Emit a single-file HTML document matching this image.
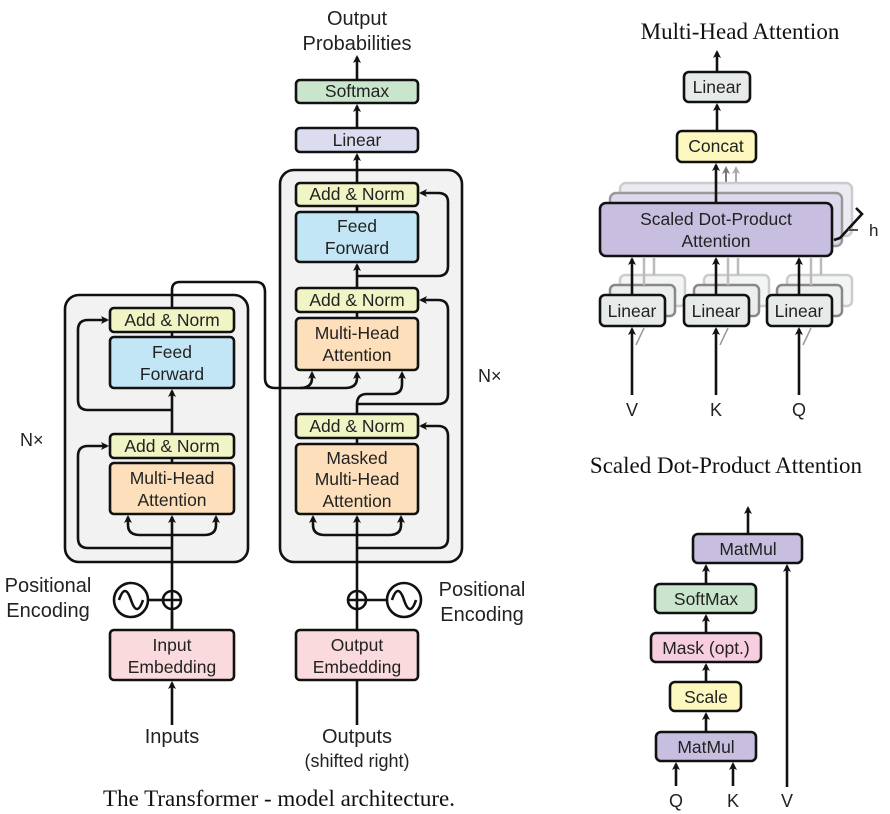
<!DOCTYPE html>
<html><head><meta charset="utf-8"><style>
html,body{margin:0;padding:0;background:#fff;}
svg{display:block;}
text{font-family:"Liberation Sans",sans-serif;fill:#222;}
.s{font-family:"Liberation Serif",serif;fill:#111;}
.b{stroke:#111;stroke-width:2.6;}
.l{stroke:#111;stroke-width:2.6;fill:none;}
</style></head><body>
<svg width="890" height="814" viewBox="0 0 890 814" xmlns="http://www.w3.org/2000/svg">
<defs>
<marker id="a" markerWidth="8" markerHeight="8" refX="6" refY="4" orient="auto" markerUnits="userSpaceOnUse"><path d="M0,0 L8,4 L0,8 L2,4 z" fill="#111"/></marker>
<marker id="g" markerWidth="8" markerHeight="8" refX="6" refY="4" orient="auto" markerUnits="userSpaceOnUse"><path d="M0,0 L8,4 L0,8 L2,4 z" fill="#777"/></marker>
<marker id="g2" markerWidth="8" markerHeight="8" refX="6" refY="4" orient="auto" markerUnits="userSpaceOnUse"><path d="M0,0 L8,4 L0,8 L2,4 z" fill="#aaa"/></marker>
</defs>

<rect x="65" y="295" width="183" height="267" rx="14" fill="#f2f2f2" class="b"/>
<rect x="280" y="170" width="182" height="392" rx="14" fill="#f2f2f2" class="b"/>

<path class="l" d="M172,680 V609 M172,591 V517" marker-end="url(#a)"/>
<path class="l" d="M172,535 H140 Q128,535 128,525 V517" marker-end="url(#a)"/>
<path class="l" d="M172,535 H204 Q216,535 216,525 V517" marker-end="url(#a)"/>
<path class="l" d="M172,548 H88 Q78,548 78,538 V456 Q78,446 88,446 H107" marker-end="url(#a)"/>
<path class="l" d="M172,463 V458"/>
<path class="l" d="M172,434 V391" marker-end="url(#a)"/>
<path class="l" d="M172,410 H88 Q78,410 78,400 V330 Q78,320 88,320 H107" marker-end="url(#a)"/>
<path class="l" d="M172,337 V332"/>
<path class="l" d="M172,308 V290 Q172,282 180,282 H256 Q265,282 265,292 V378 Q265,388 275,388 H300 Q312,388 312,378 V373" marker-end="url(#a)"/>
<path class="l" d="M300,388 H345 Q357,388 357,378 V373" marker-end="url(#a)"/>

<path class="l" d="M357,725 V660" marker-end="url(#a)"/>
<path class="l" d="M357,630 V609 M357,591 V517" marker-end="url(#a)"/>
<path class="l" d="M357,535 H325 Q313,535 313,525 V517" marker-end="url(#a)"/>
<path class="l" d="M357,535 H389 Q401,535 401,525 V517" marker-end="url(#a)"/>
<path class="l" d="M357,548 H438 Q448,548 448,538 V436 Q448,426 438,426 H421" marker-end="url(#a)"/>
<path class="l" d="M357,444 V438"/>
<path class="l" d="M357,414 V404 Q357,394 367,394 H392 Q402,394 402,384 V373" marker-end="url(#a)"/>
<path class="l" d="M357,404 Q357,404 367,404 H438 Q448,404 448,394 V310 Q448,300 438,300 H421" marker-end="url(#a)"/>
<path class="l" d="M357,318 V312"/>
<path class="l" d="M357,288 V265" marker-end="url(#a)"/>
<path class="l" d="M357,276 H438 Q448,276 448,266 V202 Q448,193 438,193 H421" marker-end="url(#a)"/>
<path class="l" d="M357,212 V206"/>
<path class="l" d="M357,183 V155" marker-end="url(#a)"/>
<path class="l" d="M357,128 V106" marker-end="url(#a)"/>
<path class="l" d="M357,80 V57" marker-end="url(#a)"/>

<g font-size="17.5" text-anchor="middle">
<rect x="110" y="308" width="124" height="24" rx="4" fill="#f1f4c4" class="b"/>
<text x="172" y="326">Add &amp; Norm</text>
<rect x="110" y="337" width="124" height="51" rx="4" fill="#c2e6f5" class="b"/>
<text x="172" y="358">Feed</text>
<text x="172" y="380">Forward</text>
<rect x="110" y="434" width="124" height="24" rx="4" fill="#f1f4c4" class="b"/>
<text x="172" y="452">Add &amp; Norm</text>
<rect x="110" y="463" width="124" height="51" rx="4" fill="#fde0bb" class="b"/>
<text x="172" y="484">Multi-Head</text>
<text x="172" y="506">Attention</text>

<rect x="296" y="183" width="122" height="23" rx="4" fill="#f1f4c4" class="b"/>
<text x="357" y="200">Add &amp; Norm</text>
<rect x="296" y="212" width="122" height="50" rx="4" fill="#c2e6f5" class="b"/>
<text x="357" y="232">Feed</text>
<text x="357" y="254">Forward</text>
<rect x="296" y="288" width="122" height="24" rx="4" fill="#f1f4c4" class="b"/>
<text x="357" y="306">Add &amp; Norm</text>
<rect x="296" y="318" width="122" height="52" rx="4" fill="#fde0bb" class="b"/>
<text x="357" y="339">Multi-Head</text>
<text x="357" y="361">Attention</text>
<rect x="296" y="414" width="122" height="24" rx="4" fill="#f1f4c4" class="b"/>
<text x="357" y="432">Add &amp; Norm</text>
<rect x="296" y="444" width="122" height="70" rx="4" fill="#fde0bb" class="b"/>
<text x="357" y="464">Masked</text>
<text x="357" y="485">Multi-Head</text>
<text x="357" y="507">Attention</text>

<rect x="296" y="128" width="122" height="24" rx="4" fill="#dcdcf0" class="b"/>
<text x="357" y="146">Linear</text>
<rect x="296" y="80" width="122" height="23" rx="4" fill="#c9e6cd" class="b"/>
<text x="357" y="97">Softmax</text>
</g>
<text x="20" y="446" font-size="18">N×</text>
<text x="478" y="382" font-size="18">N×</text>
<text x="357" y="25" text-anchor="middle" font-size="20">Output</text>
<text x="357" y="50" text-anchor="middle" font-size="20">Probabilities</text>

<path class="l" d="M172,725 V683" marker-end="url(#a)"/>
<g font-size="17.5" text-anchor="middle">
<rect x="110" y="630" width="124" height="50" rx="4" fill="#fadadd" class="b"/>
<text x="172" y="651">Input</text>
<text x="172" y="673">Embedding</text>
<rect x="296" y="630" width="122" height="50" rx="4" fill="#fadadd" class="b"/>
<text x="357" y="651">Output</text>
<text x="357" y="673">Embedding</text>
</g>
<path class="l" d="M172,630 V612"/>

<circle cx="172" cy="600" r="9" fill="#fff" class="b"/>
<path class="l" d="M163,600 H181 M172,591 V609" stroke-width="2"/>
<circle cx="357" cy="600" r="9" fill="#fff" class="b"/>
<path class="l" d="M348,600 H366 M357,591 V609" stroke-width="2"/>
<path class="l" d="M148,600 H163"/>
<path class="l" d="M366,600 H387"/>
<circle cx="131" cy="600" r="17" fill="#fff" class="b"/>
<path class="l" stroke-width="2" d="M119,600 C123,588 127,588 131,600 C135,612 139,612 143,600"/>
<circle cx="404" cy="600" r="17" fill="#fff" class="b"/>
<path class="l" stroke-width="2" d="M392,600 C396,588 400,588 404,600 C408,612 412,612 416,600"/>
<text x="48" y="592" text-anchor="middle" font-size="20">Positional</text>
<text x="48" y="617" text-anchor="middle" font-size="20">Encoding</text>
<text x="482" y="596" text-anchor="middle" font-size="20">Positional</text>
<text x="482" y="621" text-anchor="middle" font-size="20">Encoding</text>
<text x="172" y="743" text-anchor="middle" font-size="20">Inputs</text>
<text x="357" y="743" text-anchor="middle" font-size="20">Outputs</text>
<text x="357" y="767" text-anchor="middle" font-size="18">(shifted right)</text>
<text class="s" x="279" y="806" text-anchor="middle" font-size="23">The Transformer - model architecture.</text>

<text class="s" x="740" y="39" text-anchor="middle" font-size="23">Multi-Head Attention</text>
<path class="l" d="M717,131 V105" marker-end="url(#a)"/>
<path class="l" d="M717,72 V52" marker-end="url(#a)"/>
<g font-size="17.5" text-anchor="middle">
<rect x="684" y="72" width="66" height="30" rx="5" fill="#e6ebe9" class="b"/>
<text x="717" y="93">Linear</text>
<rect x="677" y="131" width="79" height="31" rx="5" fill="#fdf7c0" class="b"/>
<text x="716" y="152">Concat</text>
</g>
<path d="M726,190 V168" stroke="#777" stroke-width="2" fill="none" marker-end="url(#g)"/>
<path d="M736,185 V168" stroke="#aaa" stroke-width="2" fill="none" marker-end="url(#g2)"/>
<rect x="620" y="183" width="232" height="53" rx="6" fill="#eceaf3" stroke="#ccc" stroke-width="2.5"/>
<rect x="610" y="193" width="232" height="53" rx="6" fill="#ddd8ec" stroke="#999" stroke-width="2.5"/>
<path class="l" d="M716,203 V165" marker-end="url(#a)"/>
<g stroke="#ccc" stroke-width="2.5" fill="#f3f5f4">
<rect x="620" y="275" width="65" height="31" rx="5"/><rect x="704" y="275" width="65" height="31" rx="5"/><rect x="787" y="275" width="65" height="31" rx="5"/></g>
<g stroke="#888" stroke-width="2.5" fill="#eceeed">
<rect x="610" y="285" width="65" height="31" rx="5"/><rect x="694" y="285" width="65" height="31" rx="5"/><rect x="777" y="285" width="65" height="31" rx="5"/></g>
<g stroke="#bbb" stroke-width="2.5"><path d="M644,285 V258 M654,275 V258 M728,285 V258 M738,275 V258 M811,285 V258 M821,275 V258"/></g>
<rect x="600" y="203" width="232" height="53" rx="6" fill="#c8bfe0" class="b"/>
<text x="716" y="225" text-anchor="middle" font-size="17.5">Scaled Dot-Product</text>
<text x="716" y="247" text-anchor="middle" font-size="17.5">Attention</text>
<path class="l" d="M856,208 L862,214 L840,238 L834,240"/>
<path d="M848,230 H858" stroke="#555" stroke-width="2"/>
<text x="869" y="236" font-size="17">h</text>
<path class="l" d="M632,295 V259" marker-end="url(#a)"/>
<path class="l" d="M716,295 V259" marker-end="url(#a)"/>
<path class="l" d="M799,295 V259" marker-end="url(#a)"/>
<g fill="#e6ebe9" class="b">
<rect x="600" y="295" width="65" height="31" rx="5"/><rect x="684" y="295" width="65" height="31" rx="5"/><rect x="767" y="295" width="65" height="31" rx="5"/></g>
<g font-size="17.5" text-anchor="middle">
<text x="632" y="317">Linear</text>
<text x="716" y="317">Linear</text>
<text x="799" y="317">Linear</text>
</g>
<path class="l" d="M632,395 V329" marker-end="url(#a)"/>
<path class="l" d="M716,395 V329" marker-end="url(#a)"/>
<path class="l" d="M799,395 V329" marker-end="url(#a)"/>
<path d="M636,345 L644,328 M720,345 L728,328 M803,345 L811,328" stroke="#999" stroke-width="1.5"/>
<text x="632" y="416" text-anchor="middle" font-size="18">V</text>
<text x="716" y="416" text-anchor="middle" font-size="18">K</text>
<text x="799" y="416" text-anchor="middle" font-size="18">Q</text>

<text class="s" x="726" y="473" text-anchor="middle" font-size="23">Scaled Dot-Product Attention</text>
<path class="l" d="M748,533 V508" marker-end="url(#a)"/>
<path class="l" d="M706,583 V566" marker-end="url(#a)"/>
<path class="l" d="M706,632 V616" marker-end="url(#a)"/>
<path class="l" d="M706,681 V665" marker-end="url(#a)"/>
<path class="l" d="M706,731 V714" marker-end="url(#a)"/>
<path class="l" d="M787,787 V566" marker-end="url(#a)"/>
<path class="l" d="M676,786 V764" marker-end="url(#a)"/>
<path class="l" d="M733,786 V764" marker-end="url(#a)"/>
<g font-size="17.5" text-anchor="middle">
<rect x="693" y="534" width="109" height="29" rx="5" fill="#c8bfe0" class="b"/>
<text x="748" y="555">MatMul</text>
<rect x="655" y="584" width="101" height="29" rx="5" fill="#c9e6cd" class="b"/>
<text x="706" y="605">SoftMax</text>
<rect x="651" y="633" width="110" height="29" rx="5" fill="#f7cde0" class="b"/>
<text x="706" y="654">Mask (opt.)</text>
<rect x="670" y="682" width="71" height="29" rx="5" fill="#fdf7c0" class="b"/>
<text x="706" y="703">Scale</text>
<rect x="656" y="732" width="100" height="29" rx="5" fill="#c8bfe0" class="b"/>
<text x="706" y="753">MatMul</text>
</g>
<text x="676" y="807" text-anchor="middle" font-size="18">Q</text>
<text x="733" y="807" text-anchor="middle" font-size="18">K</text>
<text x="787" y="807" text-anchor="middle" font-size="18">V</text>
</svg>
</body></html>
